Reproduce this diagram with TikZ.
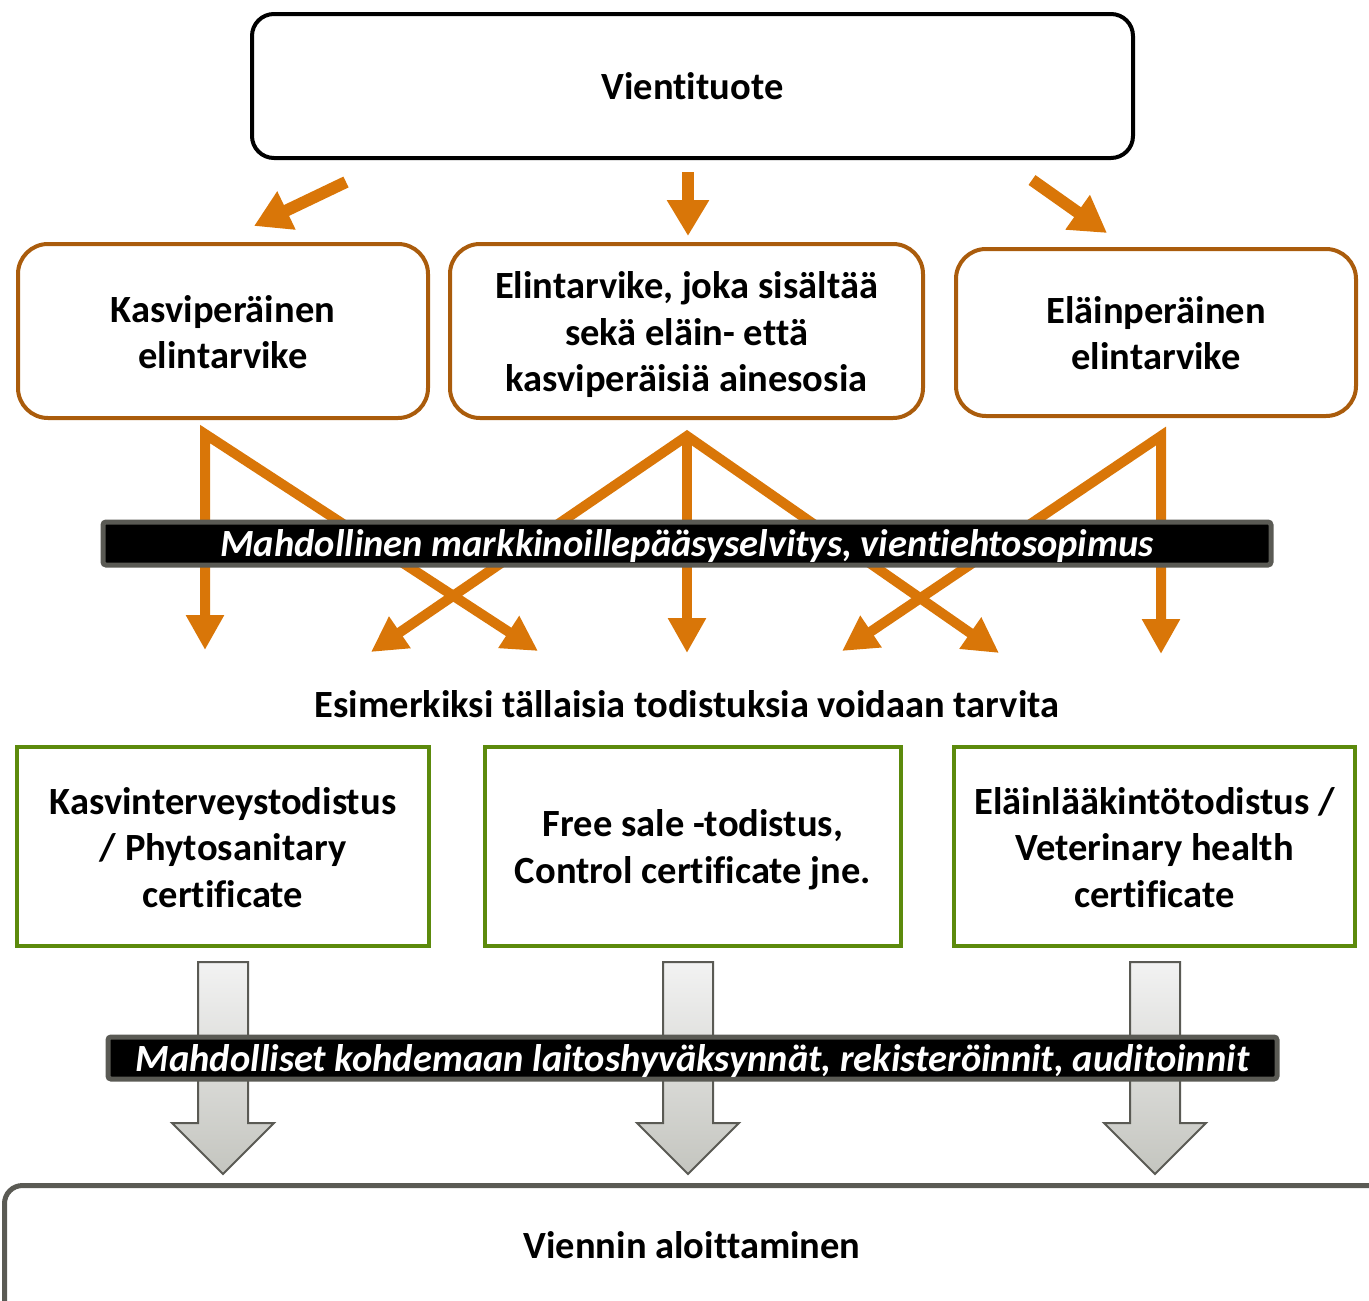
\documentclass[tikz,border=0pt]{standalone}
\usepackage{fontspec}
\setmainfont{Carlito}[Ligatures=NoCommon]
\usetikzlibrary{arrows.meta}
\definecolor{arrorange}{RGB}{217,118,8}
\definecolor{boxorange}{RGB}{170,92,12}
\definecolor{boxgreen}{RGB}{92,138,12}
\definecolor{bargrey}{RGB}{90,90,84}
\definecolor{arrgreytop}{RGB}{242,242,242}
\definecolor{arrgreybot}{RGB}{196,197,191}
\newcommand{\shiftdown}[2]{\raisebox{-#1}[\height][\depth]{\begin{tabular}{@{}c@{}}#2\end{tabular}}}
\begin{document}
\begin{tikzpicture}[x=1pt,y=-1pt,
  txt/.style={font=\fontsize{38.5}{46.5}\selectfont\bfseries, align=center, inner sep=0pt},
  topbox/.style={txt, draw=black, line width=4pt, rounded corners=22pt},
  obox/.style={txt, draw=boxorange, line width=4pt, rounded corners=30pt},
  gbox/.style={txt, draw=boxgreen, line width=4pt},
  barbox/.style={draw=bargrey, fill=black, line width=5pt, rounded corners=3pt, text=white, inner sep=0pt,
    font=\fontsize{38.5}{44}\selectfont\bfseries\itshape},
  endbox/.style={draw=bargrey, line width=5pt, rounded corners=18pt, inner sep=0pt},
  oarrow/.style={draw=arrorange, line width=10pt, line join=miter, -{Triangle[length=35pt,width=36pt]}},
  oarrowtwo/.style={draw=arrorange, line width=10pt, line join=miter, {Triangle[length=35pt,width=36pt]}-{Triangle[length=35pt,width=36pt]}},
  toparrow/.style={draw=arrorange, line width=12pt, -{Triangle[length=36pt,width=40pt]}},
  greyarrow/.style={draw=bargrey, line width=2pt, top color=arrgreytop, bottom color=arrgreybot}
]
\useasboundingbox (0,0) rectangle (1369,1301);

% top box
\node[topbox, minimum width=881pt, minimum height=144pt] (vienti) at (692.5,86) {Vientituote};

% second row
\node[obox, minimum width=410pt, minimum height=174pt] (kasvi) at (223,331) {\shiftdown{5pt}{Kasviperäinen\\elintarvike}};
\node[obox, minimum width=473pt, minimum height=174pt] (seka) at (686.5,331) {\shiftdown{5pt}{Elintarvike, joka sisältää\\sekä eläin- että\\kasviperäisiä ainesosia}};
\node[obox, minimum width=400pt, minimum height=167pt] (elain) at (1156,332.5) {\shiftdown{4.5pt}{Eläinperäinen\\elintarvike}};

% top arrows
\coordinate (ta1s) at (346,182); \coordinate (ta1e) at (254,226);
\coordinate (ta2s) at (688,172); \coordinate (ta2e) at (688,236);
\coordinate (ta3s) at (1032,180); \coordinate (ta3e) at (1107,233);
\draw[toparrow] (ta1s) -- (ta1e);
\draw[toparrow] (ta2s) -- (ta2e);
\draw[toparrow] (ta3s) -- (ta3e);

% crossing arrows
\coordinate (a1) at (205,434);
\coordinate (a2) at (687,436);
\coordinate (a3) at (1161,436);
\coordinate (t1) at (205,650);
\coordinate (t2) at (371,652);
\coordinate (t3) at (538,651);
\coordinate (t4) at (687,653);
\coordinate (t5) at (842,651);
\coordinate (t6) at (999,653);
\coordinate (t7) at (1161,654);
\draw[oarrowtwo] (t1) -- (a1) -- (t3);
\draw[oarrowtwo] (t2) -- (a2) -- (t6);
\draw[oarrow] (a2) -- (t4);
\draw[oarrowtwo] (t5) -- (a3) -- (t7);

% bar 1
\node[barbox, minimum width=1168pt, minimum height=43pt] (bar1) at (687,543.5) {\raisebox{-3pt}[\height][\depth]{Mahdollinen markkinoillepääsyselvitys, vientiehtosopimus}};

% middle text
\node[txt] (esim) at (687,704) {Esimerkiksi tällaisia todistuksia voidaan tarvita};

% green boxes
\node[gbox, minimum width=412pt, minimum height=199pt] (kasvit) at (223,846.5) {\shiftdown{5pt}{Kasvinterveystodistus\\/ Phytosanitary\\certificate}};
\node[gbox, minimum width=416pt, minimum height=199pt] (free) at (693,846.5) {\shiftdown{4pt}{Free sale -todistus,\\Control certificate jne.}};
\node[gbox, minimum width=401pt, minimum height=199pt] (elaint) at (1154.5,846.5) {\shiftdown{5pt}{Eläinlääkintötodistus /\\Veterinary health\\certificate}};

% grey block arrows
\foreach \cx in {223,688,1155}{
  \path[greyarrow] (\cx-25,962) -- (\cx+25,962) -- (\cx+25,1123) -- (\cx+51,1123) -- (\cx,1174)
     -- (\cx-51,1123) -- (\cx-25,1123) -- cycle;
}

% bar 2
\node[barbox, minimum width=1169pt, minimum height=42pt] (bar2) at (692.5,1058) {\raisebox{-3pt}[\height][\depth]{Mahdolliset kohdemaan laitoshyväksynnät, rekisteröinnit, auditoinnit}};

% bottom box
\begin{scope}
\clip (0,0) rectangle (1369,1301);
\node[endbox, anchor=north west, minimum width=1420pt, minimum height=160pt] (aloitus) at (2,1183) {};
\end{scope}
\node[txt] (aloitusteksti) at (692,1245) {Viennin aloittaminen};
\end{tikzpicture}
\end{document}
